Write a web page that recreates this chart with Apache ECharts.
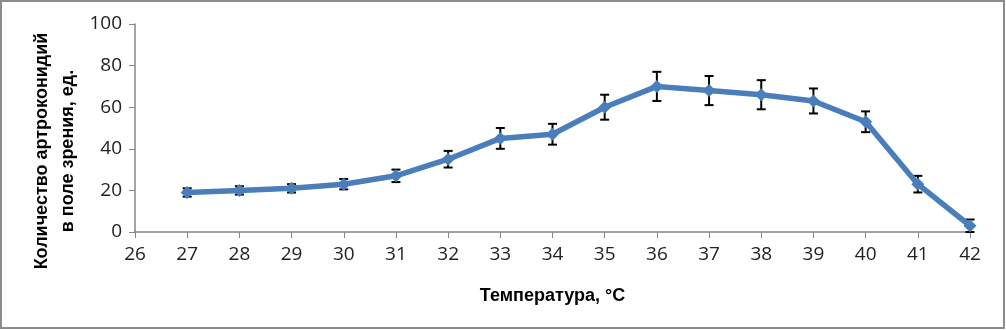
<!DOCTYPE html>
<html><head><meta charset="utf-8">
<script src="https://cdn.jsdelivr.net/npm/echarts@6/dist/echarts.min.js"></script>
<style>html,body{margin:0;padding:0;background:#fff}#c{width:1006px;height:330px}</style>
</head><body><div id="c"></div>
<script>
const temperatures = [27,28,29,30,31,32,33,34,35,36,37,38,39,40,41,42];
const counts = [19,20,21,23,27,35,45,47,60,70,68,66,63,53,23,3];
const errors = [2,2,2,2.5,3,4,5,5,6,7,7,7,6,5,4,3];
const yTicks = {min:0,max:100,interval:20};
const xTicks = {min:26,max:42,interval:1};

const chart = echarts.init(document.getElementById('c'));
const lineData = temperatures.map((t,i)=>[t,counts[i]]);
const errData = temperatures.map((t,i)=>[t,counts[i]-errors[i],counts[i]+errors[i]]);
const axisColor = '#868686';
const font = 'Open Sans';
chart.setOption({
  animation:false,
  grid:{left:135,right:36,top:24,bottom:98},
  graphic:[
    {type:'rect',shape:{x:1,y:1,width:1003,height:327},style:{fill:'none',stroke:'#8c8c8c',lineWidth:2},z:-1},
    {type:'text',x:55,y:151,rotation:Math.PI/2,style:{text:'Количество артроконидий\nв поле зрения, ед.',align:'center',verticalAlign:'middle',fontFamily:'Liberation Sans',fontWeight:'bold',fontSize:18,lineHeight:26,fill:'#000'}}
  ],
  xAxis:{type:'value',min:xTicks.min,max:xTicks.max,interval:xTicks.interval,
    name:'Температура, °C',nameLocation:'middle',nameGap:55,
    nameTextStyle:{fontFamily:'Liberation Sans',fontWeight:'bold',fontSize:18,color:'#000'},
    axisLine:{lineStyle:{color:axisColor,width:1.5}},axisTick:{length:6,lineStyle:{color:axisColor}},
    axisLabel:{fontFamily:font,fontSize:19,color:'#222',margin:13},splitLine:{show:false}},
  yAxis:{type:'value',min:yTicks.min,max:yTicks.max,interval:yTicks.interval,
    axisLine:{show:true,lineStyle:{color:axisColor,width:1.5}},axisTick:{show:true,length:6,lineStyle:{color:axisColor}},
    axisLabel:{fontFamily:font,fontSize:19,color:'#222',margin:13},splitLine:{show:false}},
  series:[
    {type:'custom',data:errData,z:1,
      renderItem:function(params,api){
        const x=api.value(0);
        const lo=api.coord([x,api.value(1)]);
        const hi=api.coord([x,api.value(2)]);
        const w=4.5;
        const st={stroke:'#000',lineWidth:2};
        return {type:'group',children:[
          {type:'line',shape:{x1:lo[0],y1:lo[1],x2:hi[0],y2:hi[1]},style:st},
          {type:'line',shape:{x1:lo[0]-w,y1:lo[1],x2:lo[0]+w,y2:lo[1]},style:st},
          {type:'line',shape:{x1:hi[0]-w,y1:hi[1],x2:hi[0]+w,y2:hi[1]},style:st}
        ]};
      }},
    {type:'line',data:lineData,symbol:'diamond',symbolSize:13,
      lineStyle:{color:'#4a7ebb',width:5.5},itemStyle:{color:'#4a7ebb'},z:2}
  ]
});
</script></body></html>
